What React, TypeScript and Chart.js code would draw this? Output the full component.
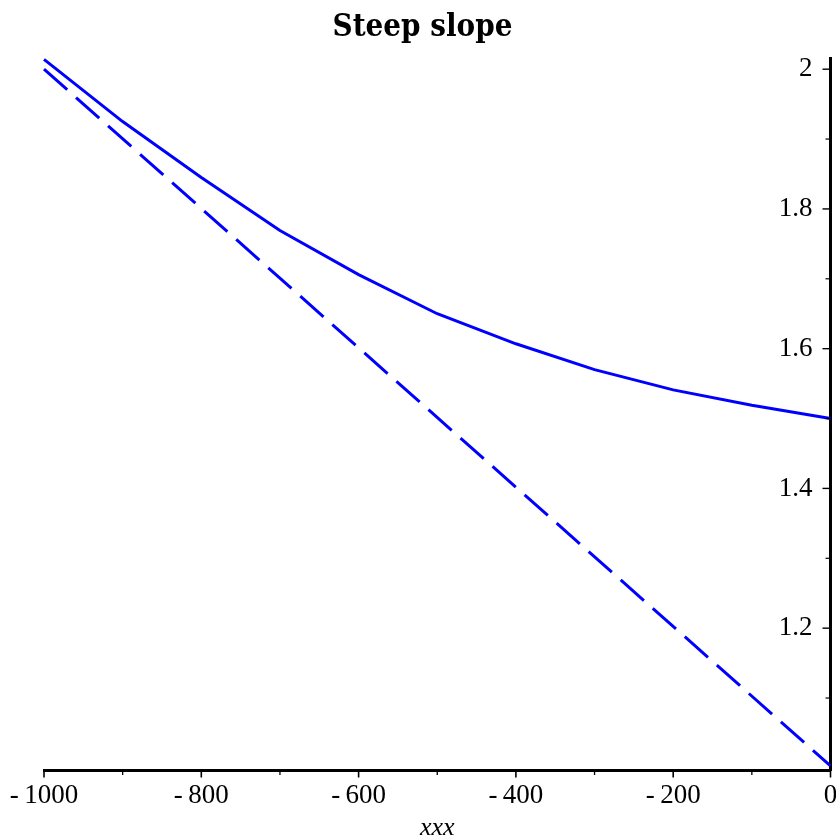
import React, { useEffect, useRef } from "react";
import { Chart, registerables } from "chart.js";

Chart.register(...registerables);

// ---- data ----
const xValues = [-1000, -900, -800, -700, -600, -500, -400, -300, -200, -100, 0];
const solidValues = [2.014, 1.925, 1.845, 1.769, 1.706, 1.65, 1.607, 1.57, 1.541, 1.519, 1.5];
const dashedX = [-1000, 0];
const dashedValues = [2.0, 1.003];

const xMajorTicks = [-1000, -800, -600, -400, -200, 0];
const xMinorTicks = [-900, -700, -500, -300, -100];
const yMajorTicks = [1.2, 1.4, 1.6, 1.8, 2];
const yMinorTicks = [1.1, 1.3, 1.5, 1.7, 1.9];

const titleText = "Steep slope";
const xTitle = "xxx";

const BLUE = "#0000ff";

const titlePlugin = {
  id: "customTitle",
  afterDraw(chart: any) {
    const { ctx } = chart;
    ctx.save();
    ctx.fillStyle = "#000";
    ctx.font = "bold 31px 'DejaVu Serif Condensed', 'DejaVu Serif'";
    ctx.textAlign = "center";
    ctx.textBaseline = "alphabetic";
    ctx.fillText(titleText, 422.5, 36);
    ctx.restore();
  },
};

const tickPlugin = {
  id: "axisTicks",
  afterDraw(chart: any) {
    const { ctx, chartArea } = chart;
    const xs = chart.scales.x;
    const ys = chart.scales.y;
    ctx.save();
    ctx.strokeStyle = "#000";
    const drawX = (v: number, len: number, w: number) => {
      const px = xs.getPixelForValue(v);
      ctx.lineWidth = w;
      ctx.beginPath();
      ctx.moveTo(px, chartArea.bottom);
      ctx.lineTo(px, chartArea.bottom + 1.5 + len);
      ctx.stroke();
    };
    const drawY = (v: number, len: number, w: number) => {
      const py = ys.getPixelForValue(v);
      ctx.lineWidth = w;
      ctx.beginPath();
      ctx.moveTo(chartArea.right, py);
      ctx.lineTo(chartArea.right - 1.5 - len, py);
      ctx.stroke();
    };
    xMajorTicks.forEach((v) => drawX(v, 6, 1.6));
    xMinorTicks.forEach((v) => drawX(v, 3.5, 1.3));
    yMajorTicks.forEach((v) => drawY(v, 6.5, 1.4));
    yMinorTicks.forEach((v) => drawY(v, 3.5, 1.2));
    ctx.restore();
  },
};

const fmt = (v: number) => (v < 0 ? "-\u2009" + Math.abs(v) : String(v));

export default function App() {
  const ref = useRef<HTMLCanvasElement | null>(null);
  useEffect(() => {
    if (!ref.current) return;
    const chart = new Chart(ref.current, {
      type: "line",
      data: {
        datasets: [
          {
            data: xValues.map((x, i) => ({ x, y: solidValues[i] })),
            borderColor: BLUE,
            borderWidth: 3,
            pointRadius: 0,
            tension: 0,
            clip: false as any,
          },
          {
            data: dashedX.map((x, i) => ({ x, y: dashedValues[i] })),
            borderColor: BLUE,
            borderWidth: 3,
            borderDash: [31, 11.8],
            pointRadius: 0,
            tension: 0,
            clip: false as any,
          },
        ],
      },
      options: {
        animation: false,
        responsive: false,
        devicePixelRatio: 1,
        layout: { padding: { left: 44, right: 0, top: 58, bottom: 0 } },
        plugins: {
          legend: { display: false },
          tooltip: { enabled: false },
          title: { display: false },
        },
        scales: {
          x: {
            type: "linear",
            position: "bottom",
            min: -1000,
            max: 0,
            afterFit: (s: any) => {
              s.height = 70;
              s.paddingLeft = 0;
              s.paddingRight = 0;
            },
            afterBuildTicks: (s: any) => {
              s.ticks = xMajorTicks.map((v) => ({ value: v }));
            },
            grid: { display: false, drawTicks: false },
            border: { display: true, color: "#000", width: 3 },
            ticks: {
              color: "#000",
              padding: 9.5,
              maxRotation: 0,
              autoSkip: false,
              font: { family: "'Liberation Serif'", size: 27 },
              callback: (v: any) => fmt(Number(v)),
            },
            title: {
              display: true,
              text: xTitle,
              color: "#000",
              font: { family: "'Liberation Serif'", size: 26, style: "italic", lineHeight: 1 },
              padding: { top: 0, bottom: -1 },
            },
          },
          y: {
            type: "linear",
            position: "right",
            min: 0.997,
            max: 2.016,
            afterFit: (s: any) => {
              s.width = 5.5;
              s.paddingTop = 0;
              s.paddingBottom = 0;
            },
            afterBuildTicks: (s: any) => {
              s.ticks = yMajorTicks.map((v) => ({ value: v }));
            },
            grid: { display: false, drawTicks: false },
            border: { display: true, color: "#000", width: 3 },
            ticks: {
              mirror: true,
              padding: -18,
              color: "#000",
              autoSkip: false,
              font: { family: "'Liberation Serif'", size: 27 },
              callback: (v: any) => String(Math.round(Number(v) * 10) / 10),
            },
          },
        },
      } as any,
      plugins: [tickPlugin, titlePlugin],
    });
    return () => chart.destroy();
  }, []);
  return (
    <div style={{ position: "absolute", left: 0, top: 0, width: 836, height: 840, background: "#fff" }}>
      <canvas ref={ref} width={836} height={840} style={{ width: 836, height: 840, display: "block" }} />
    </div>
  );
}
